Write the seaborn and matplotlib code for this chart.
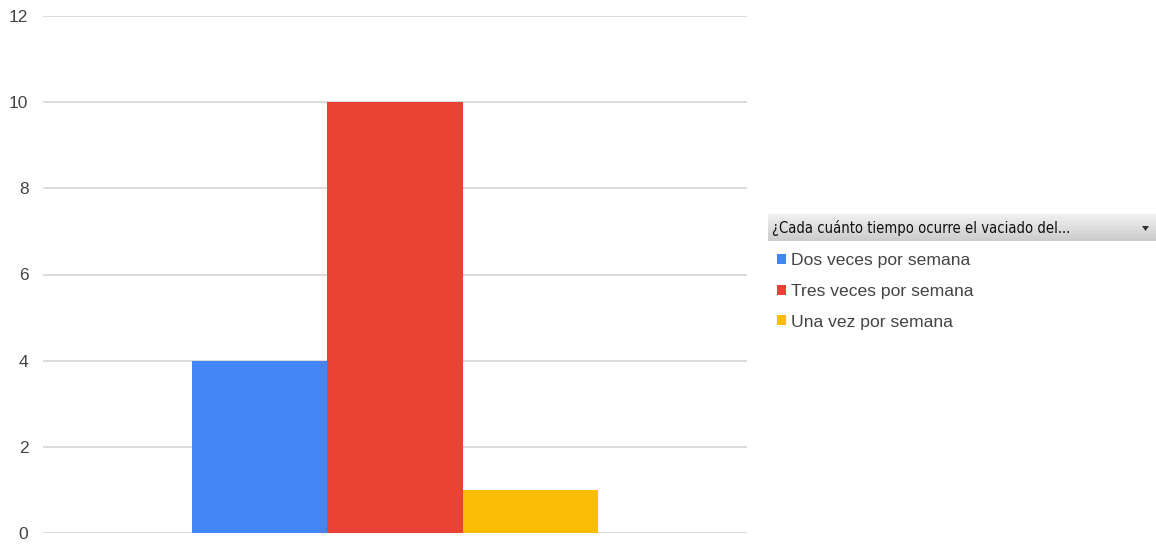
import matplotlib
matplotlib.use("Agg")
import matplotlib.pyplot as plt
import seaborn as sns
import pandas as pd
from matplotlib.patches import Rectangle, Polygon

categories = ["Dos veces por semana", "Tres veces por semana", "Una vez por semana"]
values = [4, 10, 1]
colors = ["#4285f4", "#ea4335", "#fbbc04"]
yticks = [0, 2, 4, 6, 8, 10, 12]
legend_title = "¿Cada cuánto tiempo ocurre el vaciado del..."

sns.set_theme(style="white")
plt.rcParams['font.family'] = ['Liberation Sans', 'DejaVu Sans']

df = pd.DataFrame({"grupo": [""] * len(categories), "respuesta": categories, "valor": values})

fig = plt.figure(figsize=(11.56, 5.52), dpi=100)
ax = fig.add_axes([43/1156, 1 - 533/552, (747 - 43)/1156, (533 - 16)/552])

sns.barplot(data=df, x="grupo", y="valor", hue="respuesta", palette=colors,
            hue_order=categories, width=0.577, gap=0, ax=ax, legend=True,
            saturation=1, edgecolor="none", linewidth=0)

ax.set_xlim(-0.5, 0.5)
ax.set_ylim(0, 12)
ax.set_yticks(yticks)
ax.set_yticklabels([str(t) for t in yticks])
ax.yaxis.grid(True, color="#d9d9d9", linewidth=1.3)
ax.set_axisbelow(True)
for s in ax.spines.values():
    s.set_visible(False)
ax.set_xlabel("")
ax.set_ylabel("")
ax.set_xticks([])
ax.tick_params(axis="y", length=0, labelsize=12.5, labelcolor="#444444", pad=10.5)

# legend
handles, labels = ax.get_legend_handles_labels()
ax.legend_.remove()
leg = fig.legend(handles, labels, loc="upper left",
                 bbox_to_anchor=(770/1156, 1 - 246/552), frameon=False,
                 handlelength=0.5, handleheight=0.5, handletextpad=0.3,
                 labelspacing=0.9, fontsize=12.6, borderaxespad=0)
for t in leg.get_texts():
    t.set_color("#444444")

# legend header box
hx0, hy0, hw, hh = 768/1156, 1 - 241/552, (1156 - 768)/1156, 26/552
n = 20
for i in range(n):
    c = 0.94 - 0.14 * i / (n - 1)
    fig.patches.append(Rectangle((hx0, hy0 + hh * (n - 1 - i) / n), hw, hh / n + 0.001,
                                 transform=fig.transFigure, facecolor=(c, c, c),
                                 edgecolor="none", zorder=1))
fig.text(772/1156, hy0 + hh / 2, legend_title, fontsize=10.6, color="#111111",
         va="center", ha="left", family=["DejaVu Sans"], fontstretch="condensed", zorder=3)
fig.patches.append(Polygon([(1142/1156, 1 - 226/552), (1149/1156, 1 - 226/552), (1145.5/1156, 1 - 231/552)],
                           closed=True, transform=fig.transFigure, facecolor="#333333",
                           edgecolor="none", zorder=3))

fig.savefig("out.png", dpi=100)
